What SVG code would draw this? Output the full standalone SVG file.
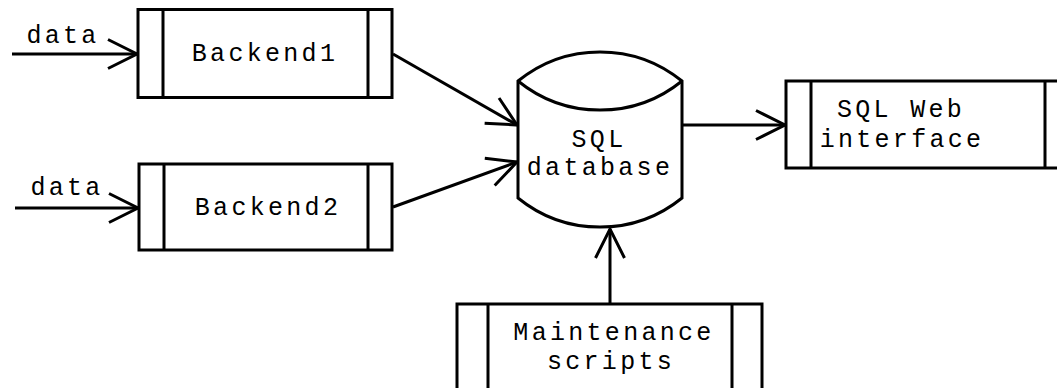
<svg xmlns="http://www.w3.org/2000/svg" width="1057" height="388" viewBox="0 0 1057 388">
<style>
.s{fill:#fff;stroke:#000;stroke-width:3}
.l{fill:none;stroke:#000;stroke-width:3}
.c{stroke:#000;stroke-width:3;fill:none;marker-end:url(#ah)}
text{font-family:"Liberation Mono","Courier New",monospace;font-size:25px;letter-spacing:3.3px;fill:#000;text-anchor:middle}
</style>
<defs>
<marker id="ah" markerUnits="userSpaceOnUse" markerWidth="40" markerHeight="40" refX="0" refY="0" viewBox="-35 -20 40 40" orient="auto" overflow="visible">
<path d="M-29,-14.5 L0,0 L-29,14.5" fill="none" stroke="#000" stroke-width="3"/>
</marker>
</defs>
<g id="connectors">
<line class="c" x1="12" y1="54" x2="137" y2="54"/>
<line class="c" x1="15" y1="208" x2="138" y2="208"/>
<line class="c" x1="393" y1="54" x2="517" y2="125"/>
<line class="c" x1="393" y1="207" x2="517" y2="162"/>
<line class="c" x1="682" y1="125" x2="785" y2="125"/>
<line class="c" x1="610" y1="304" x2="610" y2="229"/>
</g>
<g id="data1"><text x="63" y="43">data</text></g>
<g id="data2"><text x="67" y="195">data</text></g>
<g id="backend1">
<rect class="s" x="138" y="9.5" width="254" height="88"/>
<path class="l" d="M163,9.5V97.5M368,9.5V97.5"/>
<text x="265" y="61">Backend1</text>
</g>
<g id="backend2">
<rect class="s" x="139" y="164" width="253" height="86"/>
<path class="l" d="M164,164V250M368,164V250"/>
<text x="268" y="215">Backend2</text>
</g>
<g id="database">
<path class="s" d="M518,81 A130,130 0 0 1 682,81 L682,198 A130,130 0 0 1 518,198 Z"/>
<path class="l" d="M518,81 A130,130 0 0 0 682,81"/>
<text x="599" y="147">SQL</text>
<text x="600" y="175">database</text>
</g>
<g id="webinterface">
<rect class="s" x="786" y="81" width="286" height="87"/>
<path class="l" d="M811,81V168M1045,81V168"/>
<text x="901" y="117">SQL Web</text>
<text x="902" y="147">interface</text>
</g>
<g id="maintenance">
<rect class="s" x="457" y="304" width="305" height="100"/>
<path class="l" d="M488,304V404M732,304V404"/>
<text x="614" y="340">Maintenance</text>
<text x="611" y="369">scripts</text>
</g>
</svg>
